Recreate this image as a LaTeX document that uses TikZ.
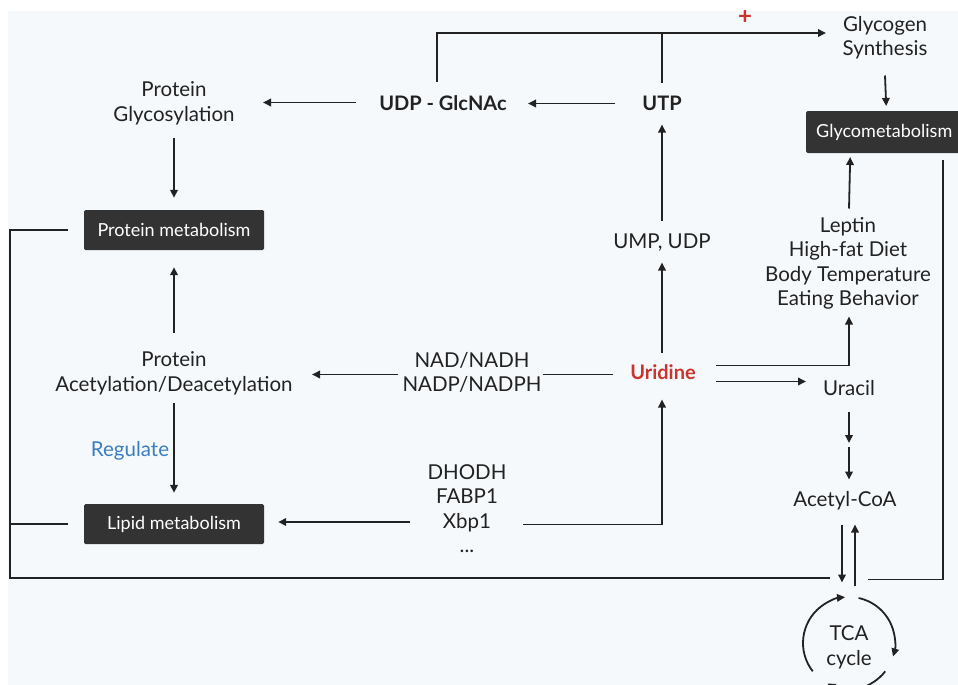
\documentclass[tikz,border=0pt]{standalone}
\usepackage{fontspec}
\setmainfont{Lato}
\usetikzlibrary{arrows.meta}
\definecolor{bg}{HTML}{F5F9FC}
\definecolor{ink}{HTML}{222222}
\definecolor{boxc}{HTML}{333333}
\definecolor{urid}{HTML}{C9342D}
\definecolor{regc}{HTML}{3B7DC0}
\begin{document}
\begin{tikzpicture}[x=1pt,y=1pt,
  txt/.style={font=\fontsize{20.5}{24.5}\selectfont, text=ink, align=center, inner sep=0pt, yshift=-2.5pt},
  txtb/.style={txt, font=\fontsize{20}{24.5}\selectfont\bfseries},
  mbox/.style={fill=boxc, text=white, font=\fontsize{18}{20}\selectfont, minimum width=180pt, minimum height=40pt, rounded corners=1.5pt, inner sep=0pt},
  ln/.style={draw=ink, line width=1.8pt},
  arr/.style={ln, -{Triangle[length=8pt,width=7.5pt]}}]
\useasboundingbox (0,0) rectangle (958,-685);
\clip (0,0) rectangle (958,-685);
\fill[bg] (8,-11) rectangle (958,-685);

% nodes
\node[txt] (glyc) at (885,-35) {Glycogen\\Synthesis};
\node[txt, text=urid, font=\fontsize{24}{26}\selectfont\bfseries] (plus) at (745,-15) {+};
\node[txtb] (udp) at (443,-101) {UDP - GlcNAc};
\node[txtb] (utp) at (662,-101) {UTP};
\node[txt] (pglyc) at (174,-101) {Protein\\Glycosylation};
\node[mbox] (pmet) at (174,-230) {Protein metabolism};
\node[txt] (pacet) at (174,-371) {Protein\\Acetylation/Deacetylation};
\node[mbox] (lmet) at (174,-524) {Lipid metabolism};
\node[txt, text=regc] (reg) at (130,-448) {Regulate};
\node[txt] (nad) at (472,-370) {NAD/NADH\\NADP/NADPH};
\node[txt] (dhodh) at (467,-506) {DHODH\\FABP1\\Xbp1\\...};
\node[txtb, text=urid] (urd) at (663,-370) {Uridine};
\node[txt] (ump) at (662,-240) {UMP, UDP};
\node[txt] (urc) at (849,-386) {Uracil};
\node[txt] (acoa) at (845,-498) {Acetyl-CoA};
\node[txt] (lept) at (848,-261) {Leptin\\High-fat Diet\\Body Temperature\\Eating Behavior};
\node[mbox, minimum width=156pt, minimum height=42pt, anchor=west] (gmet) at (806,-132) {Glycometabolism};
\node[txt] (tca) at (849,-645) {TCA\\cycle};

% named points
\coordinate (tm) at (662,-33);
\coordinate (tr) at (826,-33);
\coordinate (bl) at (10,-578);
\coordinate (br) at (830,-578);
\coordinate (um) at (849,-445);
\coordinate (tcac) at (849,-643);
\coordinate (dl) at (410,-522);

% connectors
\draw[arr] ([shift={(-6,22)}]udp.center) |- (tr);
\draw[ln] ([yshift=21]utp.center) -- (tm);
\draw[arr] ([xshift=-47]utp.center) -- ([xshift=85]udp.center);
\draw[arr] ([shift={(-87,1)}]udp.center) -- ([shift={(89,1)}]pglyc.center);
\draw[arr] ([yshift=-34]pglyc.center) -- ([yshift=12]pmet.north);
\draw[ln] ([xshift=-16]pmet.west) -| (bl) -- (br);
\draw[ln] ([xshift=-16]lmet.west) -- (lmet.west -| bl);
\draw[arr] ([yshift=41]pacet.center) -- ([yshift=-17]pmet.south);
\draw[arr] ([yshift=-29]pacet.center) -- ([yshift=11]lmet.north);
\draw[ln] ([shift={(-50,-2)}]urd.center) -- ([shift={(71,-2)}]nad.center);
\draw[arr] ([shift={(-74,-2)}]nad.center) -- ([shift={(138,-1)}]pacet.center);
\draw[arr, shorten >=14pt] (dl) -- (dl -| lmet.east);
\draw[arr] ([shift={(56,-16)}]dhodh.center) -| ([shift={(-1,-27)}]urd.center);
\draw[arr] ([shift={(-1,20)}]urd.center) -- ([yshift=-20]ump.center);
\draw[arr] ([yshift=22]ump.center) -- ([yshift=-21]utp.center);
\draw[arr] ([shift={(53,7)}]urd.center) -| ([shift={(1,-53)}]lept.center);
\draw[arr] ([shift={(53,-9)}]urd.center) -- ([shift={(-43,7)}]urc.center);
\draw[arr] ([yshift=-23]urc.center) -- ([yshift=2]um);
\draw[arr] ([yshift=-2]um) -- ([shift={(4,21)}]acoa.center);
\draw[arr] ([shift={(-3,-24)}]acoa.center) -- ([shift={(-7,65)}]tca.center);
\draw[arr] ([shift={(6,62)}]tca.center) -- ([shift={(10,-24)}]acoa.center);
\draw[ln] ([shift={(19,68)}]tca.center) -| ([shift={(59,-28)}]gmet.center);
\draw[arr] ([shift={(1,55)}]lept.center) -- ([shift={(-34,-25)}]gmet.center);
\draw[arr] ([yshift=-38]glyc.center) -- ([shift={(2,26)}]gmet.center);

% TCA cycle arrows
\draw[arr] ([shift={(218:46)}]tcac) arc[start angle=218, end angle=95, radius=46];
\draw[arr] ([shift={(78:46)}]tcac) arc[start angle=78, end angle=-17, radius=46];
\draw[arr] ([shift={(-38:46)}]tcac) arc[start angle=-38, end angle=-118, radius=46];
\end{tikzpicture}
\end{document}
